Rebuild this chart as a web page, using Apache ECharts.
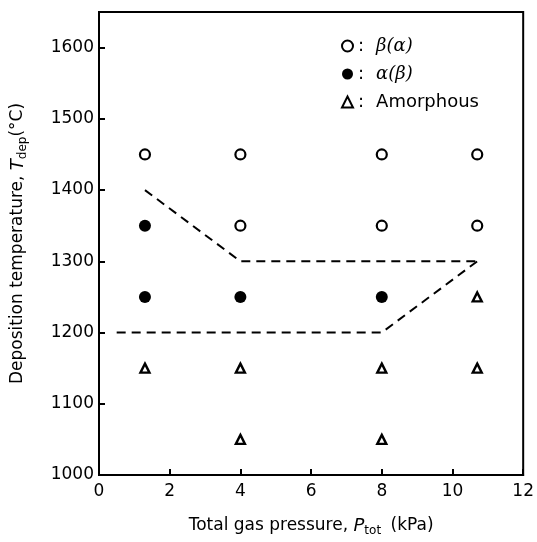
<!DOCTYPE html>
<html>
<head>
<meta charset="utf-8">
<script src="https://cdn.jsdelivr.net/npm/echarts@6/dist/echarts.min.js"></script>
<style>
  html, body { margin: 0; padding: 0; background: #fff; }
  #chart { width: 537px; height: 542px; }
</style>
</head>
<body>
<div id="chart"></div>
<script>
// data (pressure kPa, temperature degC)
var betaAlpha = [[1.3, 1450], [4, 1450], [8, 1450], [10.7, 1450], [4, 1350], [8, 1350], [10.7, 1350]];
var alphaBeta = [[1.3, 1350], [1.3, 1250], [4, 1250], [8, 1250]];
var amorphous = [[10.7, 1250], [1.3, 1150], [4, 1150], [8, 1150], [10.7, 1150], [4, 1050], [8, 1050]];
var upperBoundary = [[1.3, 1400], [4, 1300], [10.7, 1300]];
var lowerBoundary = [[0.5, 1200], [8, 1200], [10.7, 1300]];
var seriesNames = ['β(α)', 'α(β)', 'Amorphous'];

var font = 'DejaVu Sans';
var ink = '#000';
var chart = echarts.init(document.getElementById('chart'));

var dashed = { color: ink, width: 2, type: [9, 6], opacity: 1 };

chart.setOption({
  animation: false,
  textStyle: { fontFamily: font, color: ink },
  grid: {
    left: 99, right: 13, top: 12, bottom: 62,
    show: true, borderColor: ink, borderWidth: 2
  },
  legend: {
    data: seriesNames,
    orient: 'vertical',
    left: 336, top: 32,
    itemWidth: 11, itemHeight: 11, itemGap: 10,
    textStyle: {
      fontSize: 18, color: ink,
      rich: {
        c: { fontSize: 18, color: ink, padding: [0, 12, 0, 0] },
        g: { fontSize: 18, fontStyle: 'italic', fontFamily: 'DejaVu Serif', color: ink },
        n: { fontSize: 18, color: ink }
      }
    },
    formatter: function (name) {
      return name === 'Amorphous' ? '{c|:}{n|' + name + '}' : '{c|:}{g|' + name + '}';
    }
  },
  xAxis: {
    type: 'value', min: 0, max: 12, interval: 2,
    name: 'Total gas pressure, {i|P}{s|tot} (kPa)',
    nameLocation: 'middle', nameGap: 40,
    nameTextStyle: {
      fontSize: 17, color: ink,
      rich: {
        i: { fontSize: 18, fontStyle: 'italic', color: ink },
        s: { fontSize: 12, color: ink, padding: [10, 4, 0, 0] }
      }
    },
    axisLine: { lineStyle: { color: ink, width: 2 } },
    axisTick: { inside: true, length: 6, lineStyle: { color: ink, width: 2 } },
    axisLabel: { fontSize: 17, color: ink, margin: 8 },
    splitLine: { show: false }
  },
  yAxis: {
    type: 'value', min: 1000, max: 1650, interval: 100,
    name: 'Deposition temperature, {i|T}{s|dep}(°C)',
    nameLocation: 'middle', nameGap: 70, nameRotate: 90,
    nameTextStyle: {
      fontSize: 17, color: ink,
      rich: {
        i: { fontSize: 18, fontStyle: 'italic', color: ink },
        s: { fontSize: 12, color: ink, padding: [10, 0, 0, 0] }
      }
    },
    axisLine: { lineStyle: { color: ink, width: 2 } },
    axisTick: { inside: true, length: 6, lineStyle: { color: ink, width: 2 } },
    axisLabel: {
      fontSize: 17, color: ink, margin: 5, showMaxLabel: false,
      formatter: function (v) { return String(v); }
    },
    splitLine: { show: false }
  },
  series: [
    {
      name: seriesNames[0], type: 'scatter', data: betaAlpha,
      symbol: 'circle', symbolSize: 10,
      itemStyle: { color: '#fff', borderColor: ink, borderWidth: 2.2, opacity: 1 }
    },
    {
      name: seriesNames[1], type: 'scatter', data: alphaBeta,
      symbol: 'circle', symbolSize: 12,
      itemStyle: { color: ink, opacity: 1 }
    },
    {
      name: seriesNames[2], type: 'scatter', data: amorphous,
      symbol: 'triangle', symbolSize: 9,
      itemStyle: { color: '#fff', borderColor: ink, borderWidth: 2.4, opacity: 1 }
    },
    {
      type: 'line', data: upperBoundary, symbol: 'none', silent: true,
      lineStyle: dashed, z: 1
    },
    {
      type: 'line', data: lowerBoundary, symbol: 'none', silent: true,
      lineStyle: dashed, z: 1
    }
  ]
});
</script>
</body>
</html>
